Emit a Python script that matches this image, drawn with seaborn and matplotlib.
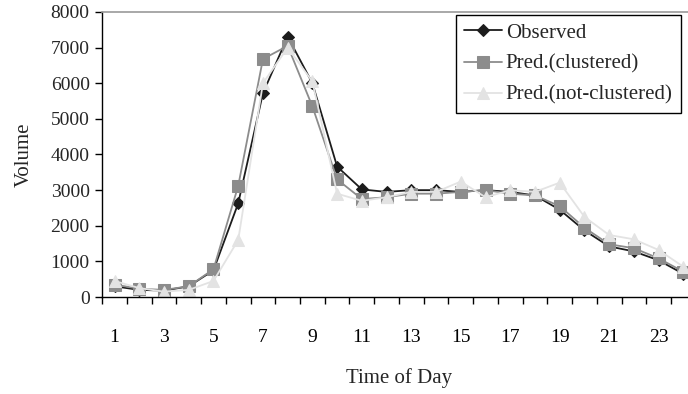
import matplotlib
matplotlib.use("Agg")
import matplotlib.pyplot as plt
import seaborn as sns
import pandas as pd
import numpy as np

hours = list(range(1, 25))
observed = [300, 200, 180, 300, 750, 2630, 5720, 7310, 6000, 3660, 3020, 2950, 3000, 3000,
            2950, 3000, 2950, 2850, 2450, 1870, 1420, 1280, 1030, 650]
clustered = [350, 230, 200, 300, 780, 3120, 6680, 7050, 5350, 3300, 2750, 2800, 2900, 2900,
             2950, 3000, 2900, 2850, 2550, 1945, 1480, 1370, 1085, 710]
not_clustered = [450, 250, 150, 200, 450, 1600, 6000, 7000, 6050, 2900, 2700, 2800, 2950, 2950,
                 3240, 2800, 3000, 2950, 3210, 2250, 1740, 1620, 1320, 850]
x_tick_labels = [str(h) for h in range(1, 24, 2)]
y_ticks = list(range(0, 8001, 1000))

sns.set_theme(style="white")
plt.rcParams['font.family'] = ['Liberation Serif', 'DejaVu Serif']

df = pd.DataFrame({"hour": hours, "Observed": observed,
                   "Pred.(clustered)": clustered,
                   "Pred.(not-clustered)": not_clustered})

fig = plt.figure(figsize=(6.88, 3.94), dpi=100)
ax = fig.add_axes([102.2 / 688, (394 - 297) / 394, 593.5 / 688, 285 / 394])

sns.lineplot(data=df, x="hour", y="Observed", ax=ax, color="#1c1c1c", marker="D",
             markersize=6.5, markeredgecolor="#1c1c1c", linewidth=1.3, label="Observed")
sns.lineplot(data=df, x="hour", y="Pred.(clustered)", ax=ax, color="#8c8c8c", marker="s",
             markersize=8, markeredgecolor="#8c8c8c", linewidth=1.3, label="Pred.(clustered)")
sns.lineplot(data=df, x="hour", y="Pred.(not-clustered)", ax=ax, color="#e3e3e3", marker="^",
             markersize=9, markeredgecolor="#e3e3e3", linewidth=1.3, label="Pred.(not-clustered)")

ax.set_xlim(0.5, 24.5)
ax.set_ylim(0, 8000)
ax.set_yticks(y_ticks)
ax.set_yticklabels([str(v) for v in y_ticks], fontsize=14)
ax.set_xticks(list(range(1, 24, 2)))
ax.set_xticklabels(x_tick_labels, fontsize=14)
ax.set_xticks(np.arange(0.5, 25, 1), minor=True)
ax.tick_params(axis='x', which='major', length=0, pad=23, colors='black')
ax.tick_params(axis='x', which='minor', length=5, width=1, direction='out', color='black', bottom=True)
ax.tick_params(axis='y', which='major', length=5, width=1, direction='out', color='black', left=True, pad=4)

for side in ['left', 'bottom']:
    ax.spines[side].set_color('black')
    ax.spines[side].set_linewidth(1)
ax.spines['top'].set_color('#999999')
ax.spines['top'].set_linewidth(1.2)
ax.spines['right'].set_visible(False)

ax.set_xlabel("Time of Day", fontsize=15, labelpad=16)
ax.set_ylabel("Volume", fontsize=15, labelpad=12)

leg = ax.legend(loc='upper right', bbox_to_anchor=(578.8 / 593.5, 0.99), fontsize=15,
                frameon=True, fancybox=False, framealpha=1, edgecolor='black',
                handlelength=1.8, handletextpad=0.2, borderpad=0.4, labelspacing=0.55,
                borderaxespad=0)
leg.get_frame().set_linewidth(1)

fig.savefig("out.png", dpi=100)
